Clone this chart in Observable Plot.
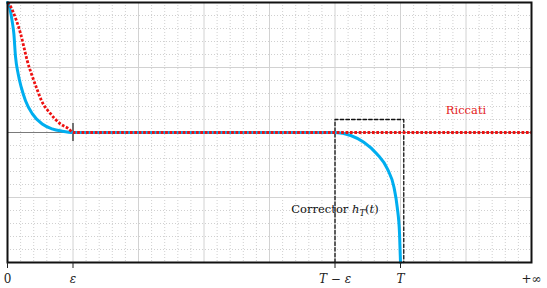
<!DOCTYPE html>
<html>
<head>
<meta charset="utf-8">
<script src="https://cdn.jsdelivr.net/npm/d3@7"></script>
<script src="https://cdn.jsdelivr.net/npm/@observablehq/plot@0.6"></script>
<style>
  html, body { margin: 0; padding: 0; background: #fff; }
  svg { display: block; }
</style>
</head>
<body>
<div id="chart"></div>
<script>
// ---- data ----
const blueX = [0, 0.03, 0.07, 0.097, 0.122, 0.163, 0.209, 0.275, 0.377, 0.53, 0.68, 0.835, 1.0, 3.0, 5.0, 5.24, 5.44, 5.64, 5.80, 5.90, 5.95, 5.985, 6.0];
const blueY = [2, 1.93, 1.72, 1.52, 1.17, 0.9, 0.70, 0.49, 0.29, 0.13, 0.057, 0.02, 0, 0, 0, -0.046, -0.15, -0.33, -0.56, -0.84, -1.15, -1.55, -2];

const redX = [0, 0.02, 0.137, 0.2, 0.275, 0.30, 0.366, 0.438, 0.519, 0.656, 0.81, 0.936, 1.0, 4.0, 8.0];
const redY = [2, 1.98, 1.72, 1.52, 1.21, 1.11, 0.9, 0.70, 0.49, 0.29, 0.13, 0.057, 0, 0, 0];

const boxX = [5, 5, 6.05, 6.05];
const boxY = [-2, 0.2, 0.2, -2];

const tickValues = [0, 1, 5, 6, 8];
const tickLabels = ["0", "ε", "T − ε", "T", "+∞"];
const tickItalic = [false, true, true, true, false];
const tickMarked = [true, true, true, true, false];

const epsMarkX = [1];
const epsMarkHalf = 0.14;

const labelRiccati = { x: 7.0, y: 0.29, text: "Riccati" };
const labelCorrector = { x: 5.0, y: -1.24, text: "Corrector h_T(t)" };

// ---- build tables ----
const blue = blueX.map((x, i) => ({ x, y: blueY[i] }));
const red = redX.map((x, i) => ({ x, y: redY[i] }));
const box = boxX.map((x, i) => ({ x, y: boxY[i] }));
const ticks = tickValues.map((v, i) => ({ v, label: tickLabels[i], italic: tickItalic[i], marked: tickMarked[i] }));

const majorX = d3.range(0, 8.001, 1);
const majorY = d3.range(-2, 2.001, 1);
const minorX = d3.range(0, 8.001, 0.2).filter(v => Math.abs(v - Math.round(v)) > 1e-6);
const minorY = d3.range(-2, 2.001, 0.2).filter(v => Math.abs(v - Math.round(v)) > 1e-6);

const serif = "DejaVu Serif";

const plot = Plot.plot({
  width: 547,
  height: 288,
  marginLeft: 7,
  marginRight: 16,
  marginTop: 2,
  marginBottom: 26,
  x: { type: "linear", domain: [0, 8], axis: null },
  y: { type: "linear", domain: [-2, 2], axis: null },
  style: { background: "#fff", fontFamily: serif },
  marks: [
    Plot.ruleX(minorX, { stroke: "#c4c4c4", strokeWidth: 0.8, strokeDasharray: "1,2" }),
    Plot.ruleY(minorY, { stroke: "#c4c4c4", strokeWidth: 0.8, strokeDasharray: "1,2" }),
    Plot.ruleX(majorX, { stroke: "#d2d2d2", strokeWidth: 1 }),
    Plot.ruleY(majorY, { stroke: "#d2d2d2", strokeWidth: 1 }),
    Plot.ruleY([0], { stroke: "#7a7a7a", strokeWidth: 1 }),
    Plot.ruleX(epsMarkX, { y1: -epsMarkHalf, y2: epsMarkHalf, stroke: "#222", strokeWidth: 1.2 }),
    Plot.line(box, { x: "x", y: "y", stroke: "#111", strokeWidth: 1.3, strokeDasharray: "3.5,2.2" }),
    Plot.line(blue, { x: "x", y: "y", stroke: "#00aeef", strokeWidth: 3, curve: "monotone-x" }),
    Plot.line(red, { x: "x", y: "y", stroke: "#ee1111", strokeWidth: 2.8, strokeDasharray: "2.7,1.7", strokeLinecap: "butt", curve: "monotone-x" }),
    Plot.frame({ stroke: "#111", strokeWidth: 2 }),
    Plot.ruleX(ticks.filter(d => d.marked), { x: "v", y1: -2, y2: -2, insetBottom: -6, stroke: "#222", strokeWidth: 1 }),
    Plot.text(ticks.filter(d => !d.italic), { x: "v", y: -2, dy: 20, text: "label", lineAnchor: "bottom", fontSize: 12, fontFamily: serif, fill: "#222" }),
    Plot.text(ticks.filter(d => d.italic), { x: "v", y: -2, dy: 20, text: "label", lineAnchor: "bottom", fontSize: 12, fontFamily: serif, fontStyle: "italic", fill: "#222" }),
    Plot.text([labelRiccati], { x: "x", y: "y", text: "text", lineAnchor: "bottom", fontSize: 11.5, fontFamily: serif, fill: "#e42020" }),
    Plot.text([labelCorrector], { x: "x", y: "y", text: "text", lineAnchor: "bottom", fontSize: 11.5, fontFamily: serif, fill: "#111", className: "corrector" })
  ]
});

// rich text for the corrector label: italic h with subscript T
d3.select(plot).selectAll(".corrector text").each(function () {
  const t = d3.select(this);
  t.text(null);
  t.append("tspan").text("Corrector ");
  t.append("tspan").attr("font-style", "italic").text("h");
  t.append("tspan").attr("font-style", "italic").attr("font-size", "8.5").attr("dy", "3").text("T");
  t.append("tspan").attr("dy", "-3").text("(");
  t.append("tspan").attr("font-style", "italic").text("t");
  t.append("tspan").text(")");
});

document.getElementById("chart").appendChild(plot);
</script>
</body>
</html>
